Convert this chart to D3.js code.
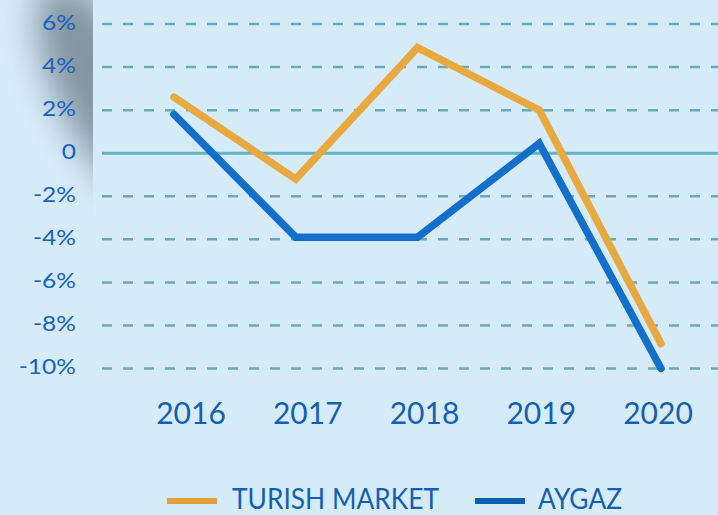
<!DOCTYPE html>
<html>
<head>
<meta charset="utf-8">
<script src="https://cdn.jsdelivr.net/npm/d3@7"></script>
<style>
  html, body { margin: 0; padding: 0; background: #d6ebf8; }
  svg { display: block; }
</style>
</head>
<body>
<div id="chart"></div>
<script>
var years = ["2016", "2017", "2018", "2019", "2020"];
var turkishMarket = [2.6, -1.2, 4.9, 2.0, -8.85];
var aygaz = [1.8, -3.9, -3.9, 0.45, -10.0];
var yTicks = [6, 4, 2, 0, -2, -4, -6, -8, -10];
var seriesNames = ["TURISH MARKET", "AYGAZ"];
var seriesColors = ["#e8aa40", "#136fca"];
var legendColors = ["#e2a03c", "#0f5fb0"];

var width = 718, height = 515;

var svg = d3.select("#chart").append("svg")
    .attr("width", width).attr("height", height);

svg.append("rect").attr("width", width).attr("height", height).attr("fill", "#d6ebf8");

// grey fold shadow left of the plot
var defs = svg.append("defs");
defs.append("filter").attr("id", "blur")
    .attr("x", "-100%").attr("y", "-100%").attr("width", "300%").attr("height", "300%")
    .append("feGaussianBlur").attr("stdDeviation", 17);
defs.append("clipPath").attr("id", "leftclip")
    .append("rect").attr("x", 0).attr("y", 0).attr("width", 93).attr("height", 300);
svg.append("g").attr("clip-path", "url(#leftclip)")
    .append("ellipse")
    .attr("transform", "translate(110,98) rotate(-28)")
    .attr("rx", 48).attr("ry", 128)
    .attr("fill", "#6f808b")
    .attr("opacity", 0.8)
    .attr("filter", "url(#blur)");

var y = d3.scaleLinear().domain([-10, 6]).range([368.5, 24]);
var x = d3.scalePoint().domain(years).range([174, 661]);
var xLabel = d3.scalePoint().domain(years).range([191, 658]);

// gridlines
svg.selectAll(".grid")
    .data(yTicks)
    .enter()
    .append("line")
    .attr("x1", 102).attr("x2", width)
    .attr("y1", d => y(d)).attr("y2", d => y(d))
    .attr("stroke", d => d === 0 ? "#63b2c2" : "#6aaab8")
    .attr("stroke-width", d => d === 0 ? 3 : 2.5)
    .attr("stroke-dasharray", d => d === 0 ? null : "10,11");

// y labels (slightly stretched like the original)
svg.selectAll(".ylab")
    .data(yTicks)
    .enter()
    .append("text")
    .attr("transform", d => "translate(76," + (y(d) - 1.5) + ") scale(1.17,1)")
    .attr("dy", "0.35em")
    .attr("text-anchor", "end")
    .style("font-family", "Lato, 'Open Sans', sans-serif")
    .style("font-size", "21px")
    .style("fill", "#1662c0")
    .text(d => d === 0 ? "0" : d + "%");

// x labels
svg.selectAll(".xlab")
    .data(years)
    .enter()
    .append("text")
    .attr("x", d => xLabel(d))
    .attr("y", 424)
    .attr("text-anchor", "middle")
    .style("font-family", "Lato, 'Open Sans', sans-serif")
    .style("font-size", "30px")
    .style("fill", "#145fb0")
    .text(d => d);

var line = d3.line()
    .x((d, i) => x(years[i]))
    .y(d => y(d));

[turkishMarket, aygaz].forEach(function(s, i) {
    svg.append("path")
        .datum(s)
        .attr("d", line)
        .attr("fill", "none")
        .attr("stroke", seriesColors[i])
        .attr("stroke-width", 7.5)
        .attr("stroke-linecap", "round")
        .attr("stroke-linejoin", "miter");
});

// legend
var lg = svg.selectAll(".legend")
    .data(seriesNames)
    .enter()
    .append("g")
    .attr("transform", (d, i) => "translate(" + (i === 0 ? 167 : 475) + ",501)");
lg.append("rect")
    .attr("x", 0).attr("y", -3)
    .attr("width", 50).attr("height", 6)
    .attr("fill", (d, i) => legendColors[i]);
lg.append("text")
    .attr("x", (d, i) => i === 0 ? 65 : 63)
    .attr("y", 7.5)
    .attr("textLength", (d, i) => i === 0 ? 207 : 84)
    .attr("lengthAdjust", "spacingAndGlyphs")
    .style("font-family", "Lato, 'Open Sans', sans-serif")
    .style("font-size", "29px")
    .style("fill", "#145fb0")
    .text(d => d);
</script>
</body>
</html>
